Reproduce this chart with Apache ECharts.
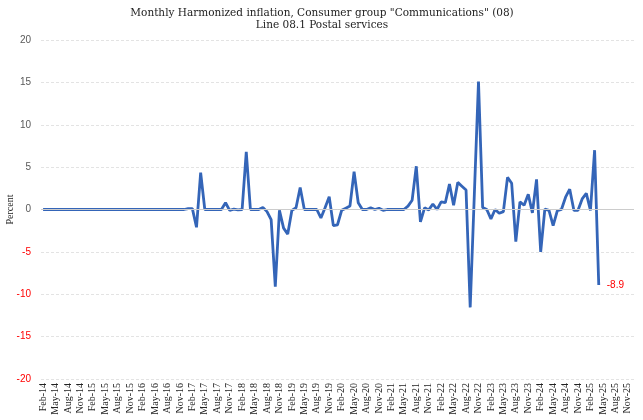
<!DOCTYPE html>
<html lang="en">

<head>
  <meta charset="UTF-8" />
  <title>Postal services inflation</title>
  <script src="https://cdn.jsdelivr.net/npm/echarts@6/dist/echarts.min.js"></script>
</head>

<body style="margin: 0; overflow: hidden;">
  <div id="panel" style="width: 643px; height: 420px;"></div>
  <script>
    // tick labels: quarterly month names on a monthly axis, Feb-14 .. Dec-25
    var monthNames = ['Jan', 'Feb', 'Mar', 'Apr', 'May', 'Jun', 'Jul', 'Aug', 'Sep', 'Oct', 'Nov', 'Dec'];
    var yearLabels = ['14', '15', '16', '17', '18', '19', '20', '21', '22', '23', '24', '25'];
    var categories = [];
    yearLabels.forEach(function (yy, yi) {
      monthNames.forEach(function (m, mi) {
        if (yi === 0 && mi === 0) return;
        categories.push(m + '-' + yy);
      });
    });

    // monthly rate, percent, Feb-14 .. Apr-25
    var postalValues = [
      0, 0, 0, 0, 0, 0, 0, 0, 0, 0, 0, 0, 0, 0, 0, 0, 0, 0, 0, 0,
      0, 0, 0, 0, 0, 0, 0, 0, 0, 0, 0, 0, 0, 0, 0,
      0.1, 0.1, -2.1, 4.35, 0, 0, 0, 0, 0, 0.8,
      -0.1, 0.05, -0.05, 0, 6.8, 0, 0, 0, 0.25, -0.25,
      -1.2, -9.1, -0.1, -2.2, -2.9, -0.1, 0.2, 2.6, 0, 0,
      0, 0, -1.0, 0.2, 1.5, -1.9, -1.8, -0.1, 0.15, 0.4,
      4.45, 0.8, 0, 0, 0.2, 0, 0.15, -0.1, 0, 0,
      0, 0, 0, 0.4, 1.1, 5.1, -1.45, 0.2, -0.05, 0.65,
      0, 0.9, 0.8, 3.0, 0.5, 3.2, 2.75, 2.3, -11.55, 1.8,
      15.1, 0.25, 0, -1.1, 0, -0.45, -0.25, 3.8, 3.1, -3.8,
      0.9, 0.5, 1.8, -0.4, 3.55, -5.0, 0.05, -0.1, -1.9, -0.15,
      0, 1.45, 2.4, -0.1, -0.1, 1.25, 1.9, -0.1, 7.0, -8.9
    ];
    var lastLabel = '-8.9';

    var serif = '"Liberation Serif", "DejaVu Serif", serif';
    var wideSerif = '"DejaVu Serif", serif';
    var sans = '"Liberation Sans", Arial, sans-serif';

    var myChart = echarts.init(document.getElementById("panel"));

    var option = {
      animation: false,
      title: {
        text: 'Monthly Harmonized inflation, Consumer group "Communications" (08)\nLine 08.1 Postal services',
        left: 317,
        top: 2,
        textAlign: 'center',
        textStyle: {
          fontFamily: wideSerif,
          fontSize: 10.5,
          fontWeight: 'normal',
          color: '#222',
          lineHeight: 12.5
        }
      },
      grid: {
        left: 41,
        right: 9,
        top: 40,
        bottom: 41,
        containLabel: false,
        outerBoundsMode: 'none'
      },
      xAxis: {
        type: 'category',
        data: categories,
        boundaryGap: true,
        axisLine: { show: false },
        axisTick: { show: false },
        splitLine: { show: false },
        axisLabel: {
          interval: 2,
          rotate: 90,
          margin: 4,
          fontFamily: serif,
          fontSize: 10,
          color: '#222'
        }
      },
      yAxis: {
        type: 'value',
        min: -20,
        max: 20,
        interval: 5,
        name: 'Percent',
        nameLocation: 'middle',
        nameGap: 26,
        nameMoveOverlap: false,
        nameTextStyle: {
          fontFamily: serif,
          fontSize: 10,
          color: '#222'
        },
        axisLine: { show: false },
        axisTick: { show: false },
        axisLabel: {
          margin: 10,
          fontFamily: sans,
          fontSize: 10,
          color: function (value) {
            return Number(value) < 0 ? '#ff0000' : '#595959';
          }
        },
        splitLine: {
          lineStyle: { color: '#e3e3e3', type: [3, 2], width: 1 }
        }
      },
      series: [
        {
          name: 'Postal services',
          type: 'line',
          data: postalValues,
          symbol: 'none',
          lineStyle: { color: '#3465b8', width: 2.8 },
          itemStyle: { color: '#3465b8' },
          endLabel: {
            show: true,
            distance: 8,
            formatter: lastLabel,
            color: '#ff0000',
            fontFamily: sans,
            fontSize: 10
          },
          markLine: {
            silent: true,
            symbol: 'none',
            label: { show: false },
            lineStyle: { color: '#cccccc', type: 'solid', width: 1 },
            data: [{ yAxis: 0 }]
          },
          z: 3
        }
      ]
    };

    myChart.setOption(option);

    window.addEventListener("resize", function () {
      myChart.resize();
    });
  </script>
</body>

</html>
